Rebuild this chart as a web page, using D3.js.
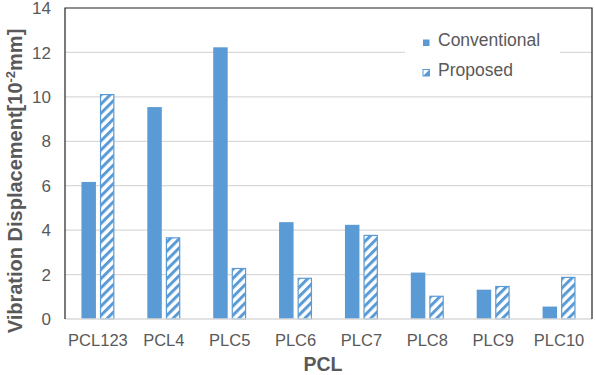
<!DOCTYPE html>
<html>
<head>
<meta charset="utf-8">
<script src="https://cdn.jsdelivr.net/npm/d3@7"></script>
<style>
  body { margin: 0; background: #fff; }
  text { font-family: "Liberation Sans", Arial, sans-serif; }
</style>
</head>
<body>
<svg id="chart"></svg>
<script>
const categories = ["PCL123", "PCL4", "PLC5", "PLC6", "PLC7", "PLC8", "PLC9", "PLC10"];
const conventional = [6.17, 9.54, 12.23, 4.36, 4.24, 2.09, 1.32, 0.56];
const proposed = [10.13, 3.68, 2.30, 1.86, 3.79, 1.05, 1.49, 1.90];
const yTicks = [0, 2, 4, 6, 8, 10, 12, 14];
const seriesNames = ["Conventional", "Proposed"];

const width = 595, height = 375;
const margin = {top: 8, right: 3, bottom: 56, left: 65};
const blue = "#5B9BD5", grey = "#595959";

const svg = d3.select("#chart").attr("width", width).attr("height", height);

// hatch for the proposed series
const defs = svg.append("defs");
const pat = defs.append("pattern")
    .attr("id", "hatch")
    .attr("patternUnits", "userSpaceOnUse")
    .attr("width", 6.5).attr("height", 6.5)
    .attr("patternTransform", "rotate(45)");
pat.append("rect").attr("width", 6.5).attr("height", 6.5).attr("fill", "#fff");
pat.append("rect").attr("width", 3).attr("height", 6.5).attr("fill", blue);

const x = d3.scaleBand()
    .domain(categories)
    .range([margin.left, width - margin.right]);
const inner = d3.scaleBand()
    .domain(seriesNames)
    .range([0, x.bandwidth()])
    .paddingInner(0.216)
    .paddingOuter(0.89);
const y = d3.scaleLinear().domain([0, 14]).range([height - margin.bottom, margin.top]);

// grid
svg.append("g").selectAll("line")
    .data(yTicks.filter(d => d > 0 && d < 14))
    .join("line")
    .attr("x1", margin.left).attr("x2", width - margin.right)
    .attr("y1", d => y(d)).attr("y2", d => y(d))
    .attr("stroke", "#d9d9d9").attr("stroke-width", 1.2);

// y tick labels
svg.append("g").selectAll("text")
    .data(yTicks)
    .join("text")
    .attr("x", 51).attr("y", d => y(d))
    .attr("dy", "0.36em")
    .attr("text-anchor", "end")
    .attr("fill", grey)
    .attr("font-size", 17)
    .text(d => d);

// bars
const groups = svg.append("g").selectAll("g")
    .data(categories)
    .join("g")
    .attr("transform", d => `translate(${x(d)},0)`);

groups.append("rect")
    .attr("x", inner("Conventional"))
    .attr("width", inner.bandwidth())
    .attr("y", (d, i) => y(conventional[i]))
    .attr("height", (d, i) => y(0) - y(conventional[i]))
    .attr("fill", blue);

groups.append("rect")
    .attr("x", inner("Proposed") + 0.6)
    .attr("width", inner.bandwidth() - 1.2)
    .attr("y", (d, i) => y(proposed[i]) + 0.6)
    .attr("height", (d, i) => y(0) - y(proposed[i]) - 0.6)
    .attr("fill", "url(#hatch)")
    .attr("stroke", blue).attr("stroke-width", 1.2);

// axes frame
svg.append("line")
    .attr("x1", margin.left).attr("x2", width - margin.right)
    .attr("y1", y(0)).attr("y2", y(0))
    .attr("stroke", "#d9d9d9").attr("stroke-width", 1.5);
svg.append("path")
    .attr("d", `M${margin.left},${y(0)}V${margin.top}H${width - margin.right}V${y(0)}`)
    .attr("fill", "none").attr("stroke", "#222").attr("stroke-width", 1.2);

// x labels
svg.append("g").selectAll("text")
    .data(categories)
    .join("text")
    .attr("x", d => x(d) + x.bandwidth() / 2)
    .attr("y", 346)
    .attr("text-anchor", "middle")
    .attr("fill", grey)
    .attr("font-size", 16.5)
    .text(d => d);

// axis titles
svg.append("text")
    .attr("x", 323).attr("y", 371)
    .attr("text-anchor", "middle")
    .attr("fill", grey)
    .attr("font-size", 19.5).attr("font-weight", "bold")
    .text("PCL");

const yt = svg.append("text")
    .attr("transform", "translate(22,181) rotate(-90)")
    .attr("text-anchor", "middle")
    .attr("fill", grey)
    .attr("font-size", 20).attr("font-weight", "bold");
yt.append("tspan").text("Vibration Displacement[10");
yt.append("tspan").attr("dy", -7).attr("font-size", 13).text("-2");
yt.append("tspan").attr("dy", 7).text("mm]");

// legend
const legend = svg.append("g");
legend.append("rect")
    .attr("x", 405).attr("y", 28).attr("width", 155).attr("height", 62)
    .attr("fill", "#fff");
const items = legend.selectAll("g")
    .data(seriesNames)
    .join("g")
    .attr("transform", (d, i) => `translate(423,${39.5 + i * 30})`);
items.append("rect")
    .attr("width", 6.5).attr("height", 6.5)
    .attr("fill", (d, i) => i === 0 ? blue : "#fff")
    .attr("stroke", (d, i) => i === 0 ? "none" : blue)
    .attr("stroke-width", 1);
items.filter((d, i) => i === 1).append("path")
    .attr("d", "M0,6.5L6.5,0V6.5Z")
    .attr("fill", blue);
items.append("text")
    .attr("x", 15).attr("y", 6.8)
    .attr("fill", grey)
    .attr("font-size", 17.5)
    .text(d => d);
</script>
</body>
</html>
